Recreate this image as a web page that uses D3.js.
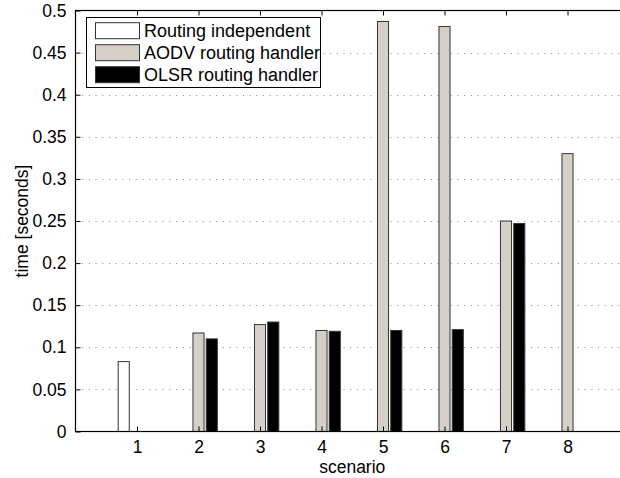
<!DOCTYPE html>
<meta charset="utf-8">
<script src="https://d3js.org/d3.v7.min.js"></script>
<style>
body { margin: 0; background: #fff; }
text { font-family: "Liberation Sans", Arial, Helvetica, sans-serif; fill: #000; }
</style>
<div id="chart"></div>
<script>

// data
var scenarios = [1, 2, 3, 4, 5, 6, 7, 8];
var seriesNames = ["Routing independent", "AODV routing handler", "OLSR routing handler"];
var routingIndependent = [0.083, 0, 0, 0, 0, 0, 0, 0];
var aodvHandler = [0, 0.117, 0.127, 0.120, 0.487, 0.481, 0.250, 0.330];
var olsrHandler = [0, 0.110, 0.130, 0.119, 0.120, 0.121, 0.247, 0];
var yTicks = [0, 0.05, 0.1, 0.15, 0.2, 0.25, 0.3, 0.35, 0.4, 0.45, 0.5];

var colors = ["#ffffff", "#d4d0c8", "#000000"];
var series = [routingIndependent, aodvHandler, olsrHandler];

var W = 620, H = 478;
var x0 = 75.5, x1 = 629, y0 = 431.5, y1 = 10.5;

var svg = d3.select("#chart").append("svg")
    .attr("width", W)
    .attr("height", H);

var x = d3.scaleLinear().domain([0, 9]).range([x0, x1]);
var y = d3.scaleLinear().domain([0, 0.5]).range([y0, y1]);

// dotted y grid
svg.append("g")
  .selectAll("line")
  .data(yTicks.filter(function(d) { return d > 0 && d < 0.5; }))
  .enter().append("line")
    .attr("x1", x0).attr("x2", x1)
    .attr("y1", function(d) { return Math.round(y(d)) + 0.5; })
    .attr("y2", function(d) { return Math.round(y(d)) + 0.5; })
    .attr("stroke", "#888")
    .attr("stroke-width", 1)
    .attr("stroke-dasharray", "1,5.7");

// bars
var offset = 0.216, barW = 0.18;
series.forEach(function(vals, i) {
  svg.append("g")
    .selectAll("rect")
    .data(vals)
    .enter().append("rect")
      .attr("x", function(d, j) { return x(scenarios[j] + (i - 1) * offset - barW / 2); })
      .attr("width", x(barW) - x(0))
      .attr("y", function(d) { return y(d); })
      .attr("height", function(d) { return y(0) - y(d); })
      .attr("fill", colors[i])
      .attr("stroke", "#333")
      .attr("stroke-width", 1);
});

// axes (ticks inward, box on)
var tickLen = 5;
svg.append("g")
    .attr("transform", "translate(0," + y0 + ")")
    .call(d3.axisBottom(x).tickValues(scenarios).tickSize(-tickLen).tickPadding(9).tickFormat(d3.format("d")))
    .call(function(g) { g.select(".domain").remove(); })
    .selectAll("text").style("font-size", "17.5px");

svg.append("g")
    .attr("transform", "translate(0," + y1 + ")")
    .call(d3.axisTop(x).tickValues(scenarios).tickSize(-tickLen).tickFormat(""))
    .call(function(g) { g.select(".domain").remove(); });

svg.append("g")
    .attr("transform", "translate(" + x0 + ",0)")
    .call(d3.axisLeft(y).tickValues(yTicks).tickSize(-tickLen).tickPadding(tickLen + 4).tickFormat(function(d) { return d3.format("")(+d.toFixed(2)); }))
    .call(function(g) { g.select(".domain").remove(); })
    .selectAll("text").style("font-size", "17.5px");

svg.selectAll(".tick line").attr("stroke", "#000");

// axis box
svg.append("rect")
    .attr("x", x0).attr("y", y1)
    .attr("width", x1 - x0).attr("height", y0 - y1)
    .attr("fill", "none")
    .attr("stroke", "#000")
    .attr("stroke-width", 1.2);

// axis labels
svg.append("text")
    .attr("x", (x0 + x1) / 2)
    .attr("y", 473)
    .attr("text-anchor", "middle")
    .style("font-size", "17.5px")
    .text("scenario");

svg.append("text")
    .attr("transform", "translate(28," + ((y0 + y1) / 2) + ") rotate(-90)")
    .attr("text-anchor", "middle")
    .style("font-size", "17.5px")
    .text("time [seconds]");

// legend
var legend = svg.append("g");
legend.append("rect")
    .attr("x", 86.5).attr("y", 17.5)
    .attr("width", 234).attr("height", 70)
    .attr("fill", "#fff")
    .attr("stroke", "#000")
    .attr("stroke-width", 1);

seriesNames.forEach(function(name, i) {
  var cy = 30.7 + i * 22;
  legend.append("rect")
      .attr("x", 95.5).attr("y", cy - 8)
      .attr("width", 44).attr("height", 16)
      .attr("fill", colors[i])
      .attr("stroke", "#333");
  legend.append("text")
      .attr("x", 144)
      .attr("y", cy + 6.5)
      .style("font-size", "18px")
      .text(name);
});

</script>
